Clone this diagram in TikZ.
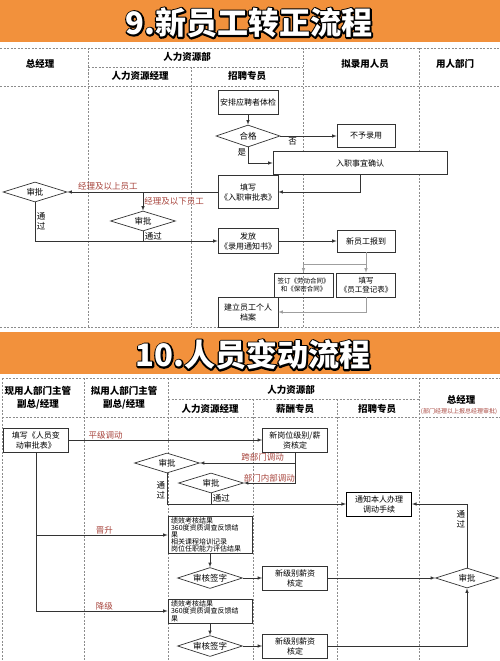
\documentclass[tikz,border=0pt]{standalone}
\usepackage{fontspec}
\setmainfont{Noto Sans CJK SC}
\usetikzlibrary{
  shapes.geometric,
  calc,
  positioning
}
\definecolor{bandorange}{HTML}{F2913C}
\definecolor{labelred}{HTML}{A8453D}
\definecolor{linegray}{HTML}{333333}
\definecolor{lanegray}{HTML}{8C8C8C}
\newcommand{\strokedtext}[1]{\special{pdf:literal direct 1 Tr 3.2 w 1 j 0 G}#1\special{pdf:literal direct 0 Tr}}

\begin{document}
\begin{tikzpicture}[x=1pt, y=-1pt, >=latex,
    lane/.style = {draw=lanegray, line width=0.6pt, dash pattern=on 2pt off 1.5pt},
    hdr/.style = {font=\fontsize{9.5}{13}\selectfont\bfseries, align=center, inner sep=0pt},
    box/.style = {draw=linegray, line width=0.7pt, fill=white, align=center, inner sep=1pt,
      minimum width=60pt, minimum height=24pt, font=\fontsize{8}{10}\selectfont},
    dec/.style = {diamond, aspect=3.2, draw=linegray, line width=0.7pt, fill=white, inner sep=0pt,
      minimum width=65pt, minimum height=20pt, font=\fontsize{8.5}{10}\selectfont},
    conn/.style = {draw=linegray, line width=0.6pt},
    lbl/.style = {text=labelred, font=\fontsize{8.5}{10}\selectfont, inner sep=1pt},
    note/.style = {font=\fontsize{8.5}{10}\selectfont, inner sep=1.5pt, align=center},
    banner/.style = {font=\fontsize{31}{34}\selectfont\bfseries, inner sep=0pt}
  ]
    \useasboundingbox (0,0) rectangle (500,661);
    \fill[white] (0,0) rectangle (500,661);

    % 9. title band
    \fill[bandorange] (0,0) rectangle (500,42);
    \node[banner] (t9o) at (249,23) {\strokedtext{9.新员工转正流程}};
    \node[banner, text=white] (t9) at (t9o) {9.新员工转正流程};

    % 9. lanes
    \draw[lane] (0,48) -- (500,48);
    \draw[lane] (88,67) -- (303,67);
    \draw[lane] (0,86) -- (500,86);
    \draw[lane] (0,327) -- (500,327);
    \draw[lane] (88,48) -- (88,327);
    \draw[lane] (191,67) -- (191,327);
    \draw[lane] (303,48) -- (303,327);
    \draw[lane] (419,48) -- (419,327);

    \node[hdr] (h-zjl) at (40,64) {总经理};
    \node[hdr] (h-hr) at (187,57) {人力资源部};
    \node[hdr] (h-hrm) at (140,76) {人力资源经理};
    \node[hdr] (h-zp) at (247,76) {招聘专员};
    \node[hdr] (h-nl) at (365,64) {拟录用人员};
    \node[hdr] (h-yr) at (455,64) {用人部门};

    % 9. nodes
    \node[box] (tijian) at (248,102) {安排应聘者体检};
    \node[dec, minimum width=64pt, minimum height=22pt] (hege) at (248,136) {合格};
    \node[box, minimum width=58pt, minimum height=23pt] (buyu) at (366,136) {不予录用};
    \node[box, minimum width=174pt, minimum height=23pt] (queren) at (360,163) {入职事宜确认};
    \node[box, minimum height=33pt] (spb) at (248,192) {填写\\《入职审批表》};
    \node[dec, minimum width=64pt] (sp1) at (35,192) {审批};
    \node[dec] (sp2) at (143,221) {审批};
    \node[box, minimum height=25pt] (fafang) at (248,241) {发放\\《录用通知书》};
    \node[box, minimum width=58pt, minimum height=22pt] (baodao) at (366,241) {新员工报到};
    \node[box, fill=none, minimum width=59pt, font=\fontsize{6.5}{8}\selectfont] (qianding) at (303.5,285)
      {签订《劳动合同》\\和《保密合同》};
    \node[box, minimum width=59pt, font=\fontsize{7.5}{9.5}\selectfont] (dengji) at (366,285) {填写\\《员工登记表》};
    \node[box, minimum height=30pt] (dangan) at (248,312) {建立员工个人\\档案};
    \coordinate (split) at ($(baodao.south)+(0,12)$);

    % 9. connectors
    \draw[conn,->] (tijian) -- (hege);
    \draw[conn,->] (hege) -- node[note, pos=.22, below] (l-no) {否} (buyu);
    \draw[conn,->] (hege.south) |- node[note, pos=.15, left] (l-yes) {是} (queren.west);
    \draw[conn,->] (queren.south) |- (spb.east);
    \draw[conn,->] (spb.west) -- node[lbl, pos=.73, above] (l-up) {经理及以上员工} (sp1.east);
    \draw[conn,->] (sp2.north |- spb.west) -- node[lbl, right] (l-down) {经理及以下员工} (sp2.north);
    \draw[conn,->] (sp1.south) |- node[note, pos=.25, right] (l-pass1) {通\\过} (fafang.west);
    \draw[conn] (sp2.south) -- node[note, right] (l-pass2) {通过} (sp2.south |- fafang.west);
    \draw[conn,->] (fafang) -- (baodao);
    \draw[conn,->,draw=gray!75] (baodao.south) -- (split) -| (qianding.north);
    \draw[conn,->,draw=gray!75] (split) -- (dengji);
    \draw[conn,->,draw=gray!75] (dengji.south) |- (dangan.east);

    % 10. title band
    \fill[bandorange] (0,332) rectangle (500,374);
    \node[banner] (t10o) at (253,355) {\strokedtext{10.人员变动流程}};
    \node[banner, text=white] (t10) at (t10o) {10.人员变动流程};

    % 10. lanes
    \draw[lane] (2,378) -- (500,378);
    \draw[lane] (168,399) -- (419,399);
    \draw[lane] (2,417) -- (500,417);
    \draw[lane] (2,378) -- (2,661);
    \draw[lane] (84,378) -- (84,661);
    \draw[lane] (168,378) -- (168,661);
    \draw[lane] (253,399) -- (253,661);
    \draw[lane] (337,399) -- (337,661);
    \draw[lane] (419,378) -- (419,661);

    \node[hdr] (g-xy) at (38,398) {现用人部门主管\\副总/经理};
    \node[hdr] (g-ny) at (124,398) {拟用人部门主管\\副总/经理};
    \node[hdr] (g-hr) at (291,390) {人力资源部};
    \node[hdr] (g-hrm) at (210,409) {人力资源经理};
    \node[hdr] (g-xc) at (295,409) {薪酬专员};
    \node[hdr] (g-zp) at (377,409) {招聘专员};
    \node[hdr] (g-zjl) at (461,400) {总经理};
    \node[lbl, font=\fontsize{6}{7}\selectfont] (g-note) at (459,412) {(部门经理以上报总经理审批)};

    % 10. nodes
    \node[box, minimum width=65pt] (bdb) at (36,440) {填写《人员变\\动审批表》};
    \node[box, minimum width=65pt] (xgw) at (295,440) {新岗位级别/薪\\资核定};
    \node[dec] (spA) at (167,463) {审批};
    \node[dec] (spB) at (211,483) {审批};
    \node[box, minimum width=65pt, draw=black, line width=1pt] (tz) at (379,504) {通知本人办理\\调动手续};
    \node[dec, minimum width=63pt] (zsp) at (467,578) {审批};
    \node[box, minimum width=84pt, minimum height=36pt, text width=78pt, align=left, inner xsep=3pt,
      font=\fontsize{7}{7}\selectfont] (jxC) at (210,535)
      {绩效考核结果\\360度资质调查反馈结\\果\\相关课程培训记录\\岗位任职能力评估结果};
    \node[dec, minimum height=21pt] (hqE) at (210,578) {审核签字};
    \node[box, minimum width=65pt] (xjF) at (295,578) {新级别薪资\\核定};
    \node[box, minimum width=84pt, text width=78pt, align=left, inner xsep=3pt,
      font=\fontsize{7}{7.5}\selectfont] (jxD) at (210,611)
      {绩效考核结果\\360度资质调查反馈结\\果};
    \node[dec, minimum height=21pt] (hqG) at (210,646) {审核签字};
    \node[box, minimum width=65pt] (xjH) at (295,646) {新级别薪资\\核定};

    % 10. connectors
    \draw[conn,->] (bdb) -- node[lbl, pos=.19, above] (l-ping) {平级调动} (xgw);
    \draw[conn,->] (xgw.south) |- node[lbl, pos=.67, above] (l-kua) {跨部门调动} (spA.east);
    \draw[conn,->] (xgw.south) |- node[lbl, pos=.75, above] (l-nei) {部门内部调动} (spB.east);
    \draw[conn,->] (spA.south) |- node[note, pos=.27, left] (l-passA) {通\\过} (tz.west);
    \draw[conn] (spB.south) -- node[note, right] (l-passB) {通过} (spB.south |- tz.west);
    \draw[conn,->] (zsp.north) |- node[note, pos=.38, left] (l-passZ) {通\\过} (tz.east);
    \draw[conn,->] (bdb.south |- jxC.west) -- node[lbl, pos=.52, above] (l-up2) {晋升} (jxC.west);
    \draw[conn,->] (bdb.south) |- node[lbl, pos=.76, above] (l-down2) {降级} (jxD.west);
    \draw[conn,->] (jxC) -- (hqE);
    \draw[conn,->] (hqE) -- (xjF);
    \draw[conn,->] (xjF) -- (zsp);
    \draw[conn,->] (jxD) -- (hqG);
    \draw[conn,->] (hqG) -- (xjH);
    \draw[conn,->] (xjH.east) -| (zsp.south);
  \end{tikzpicture}
\end{document}
